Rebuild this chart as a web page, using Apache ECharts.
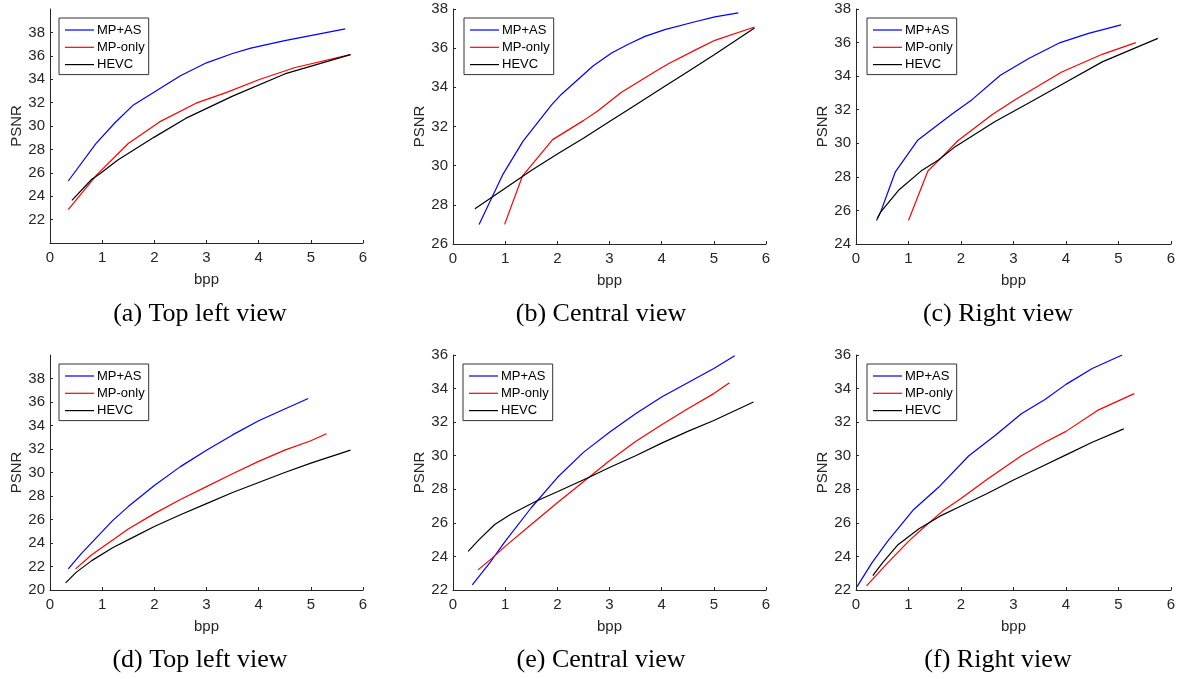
<!DOCTYPE html>
<html>
<head>
<meta charset="UTF-8">
<title>PSNR vs bpp</title>
<script src="https://cdn.jsdelivr.net/npm/echarts@6/dist/echarts.min.js"></script>
<style>
  html, body { margin: 0; padding: 0; background: #fff; }
  #main { width: 1180px; height: 679px; }
</style>
</head>
<body>
<div id="main"></div>
<script type="text/javascript">
// series names / colours (same in every panel)
var names = ['MP+AS', 'MP-only', 'HEVC'];
var colors = ['#0000ff', '#ff0000', '#000000'];
var captions = ['(a) Top left view', '(b) Central view', '(c) Right view',
                '(d) Top left view', '(e) Central view', '(f) Right view'];
var xTicks = [0, 1, 2, 3, 4, 5, 6];
var yMin = [20, 26, 24, 20, 22, 22];
var yMax = [40, 38, 38, 40, 36, 36];

// (a) top left view, first row
var mpAsA = [[0.35,25.3],[0.88,28.5],[1.25,30.3],[1.6,31.8],[2.0,32.9],[2.5,34.3],[3.0,35.4],[3.5,36.2],[3.85,36.65],[4.5,37.3],[5.66,38.3]];
var mpOnlyA = [[0.35,22.85],[0.9,25.85],[1.5,28.5],[2.1,30.35],[2.8,31.95],[3.4,32.9],[4.0,33.95],[4.7,35.0],[5.76,36.1]];
var hevcA = [[0.42,23.65],[0.8,25.45],[0.95,25.9],[1.3,27.1],[2.0,29.05],[2.6,30.65],[3.5,32.55],[4.5,34.45],[5.76,36.1]];

// (b) central view, first row
var mpAsB = [[0.5,27.0],[0.96,29.57],[1.34,31.24],[1.89,33.1],[2.08,33.65],[2.46,34.55],[2.69,35.1],[3.04,35.75],[3.36,36.2],[3.68,36.6],[4.06,36.95],[4.64,37.35],[5.02,37.6],[5.47,37.8]];
var mpOnlyB = [[0.99,27.0],[1.33,29.46],[1.91,31.33],[2.5,32.3],[2.78,32.8],[3.23,33.75],[3.87,34.8],[4.13,35.2],[4.64,35.9],[5.02,36.4],[5.78,37.08]];
var hevcB = [[0.42,27.8],[1.0,28.85],[1.5,29.75],[2.0,30.6],[2.5,31.4],[3.0,32.25],[3.5,33.1],[4.0,33.95],[4.5,34.8],[5.0,35.65],[5.78,37.03]];

// (c) right view, first row
var mpAsC = [[0.39,25.4],[0.48,26.0],[0.75,28.3],[1.18,30.2],[1.83,31.75],[2.21,32.6],[2.75,34.05],[3.29,35.05],[3.89,36.0],[4.43,36.55],[5.05,37.05]];
var mpOnlyC = [[1.0,25.4],[1.37,28.35],[1.58,29.0],[1.94,30.15],[2.59,31.7],[3.03,32.6],[3.92,34.25],[4.69,35.3],[5.33,36.0]];
var hevcC = [[0.41,25.55],[0.48,25.95],[0.81,27.2],[1.26,28.4],[1.57,29.0],[1.89,29.8],[2.65,31.3],[3.29,32.4],[3.92,33.5],[4.69,34.85],[5.75,36.25]];

// (d) top left view, second row
var mpAsD = [[0.35,21.8],[0.6,23.1],[0.9,24.5],[1.2,25.9],[1.5,27.1],[2.0,28.9],[2.5,30.5],[3.0,31.9],[3.5,33.2],[4.0,34.4],[4.5,35.4],[4.95,36.3]];
var mpOnlyD = [[0.49,21.8],[0.8,23.0],[1.25,24.4],[1.5,25.2],[2.0,26.5],[2.5,27.7],[3.0,28.8],[3.5,29.9],[4.0,30.95],[4.5,31.9],[5.0,32.7],[5.3,33.3]];
var hevcD = [[0.3,20.6],[0.5,21.5],[0.8,22.5],[1.2,23.6],[1.6,24.5],[2.0,25.4],[2.5,26.4],[3.0,27.35],[3.5,28.3],[4.0,29.15],[4.5,30.0],[5.0,30.8],[5.76,31.9]];

// (e) central view, second row
var mpAsE = [[0.37,22.3],[0.7,23.6],[1.0,24.9],[1.5,26.9],[2.0,28.7],[2.5,30.2],[3.0,31.4],[3.5,32.5],[4.0,33.5],[4.5,34.35],[5.0,35.2],[5.4,35.95]];
var mpOnlyE = [[0.48,23.2],[0.75,23.9],[1.0,24.6],[1.5,25.9],[2.0,27.2],[2.5,28.45],[3.0,29.7],[3.5,30.85],[4.0,31.85],[4.5,32.8],[5.0,33.7],[5.3,34.35]];
var hevcE = [[0.29,24.3],[0.5,25.0],[0.8,25.9],[1.1,26.5],[1.6,27.3],[2.0,27.85],[2.6,28.7],[3.0,29.3],[3.5,30.0],[4.0,30.75],[4.5,31.45],[5.0,32.1],[5.76,33.2]];

// (f) right view, second row
var mpAsF = [[0.02,22.2],[0.3,23.6],[0.6,24.9],[1.1,26.8],[1.6,28.2],[2.15,30.0],[2.65,31.2],[3.15,32.5],[3.6,33.35],[4.0,34.25],[4.5,35.2],[5.07,36.0]];
var mpOnlyF = [[0.2,22.25],[0.6,23.6],[1.0,24.9],[1.3,25.75],[1.65,26.7],[2.0,27.45],[2.5,28.6],[3.15,30.0],[3.6,30.8],[4.0,31.45],[4.6,32.7],[5.3,33.7]];
var hevcF = [[0.32,22.85],[0.5,23.6],[0.8,24.7],[1.2,25.65],[1.6,26.4],[2.0,27.0],[2.5,27.75],[3.0,28.55],[3.5,29.3],[4.0,30.05],[4.5,30.8],[5.1,31.6]];

var panels = [
    [mpAsA, mpOnlyA, hevcA],
    [mpAsB, mpOnlyB, hevcB],
    [mpAsC, mpOnlyC, hevcC],
    [mpAsD, mpOnlyD, hevcD],
    [mpAsE, mpOnlyE, hevcE],
    [mpAsF, mpOnlyF, hevcF]
];

// layout: [left, top, width, height] for each plot area
var boxes = [
    [50, 9, 313, 234],
    [453, 9, 313, 235],
    [856, 9, 315, 235],
    [50, 355, 313, 235],
    [453, 355, 313, 235],
    [856, 355, 315, 235]
];
var legendPos = [[59, 18], [464, 18], [867, 18], [59, 364], [463, 364], [867, 364]];
var captionPos = [[200, 314], [601, 314], [998, 314], [200, 660], [601, 660], [998, 660]];

var axisColor = '#262626';
var font = '"Liberation Sans", Arial, sans-serif';

var grids = [], xAxes = [], yAxes = [], series = [], legends = [], graphics = [];

for (var i = 0; i < 6; i++) {
    var b = boxes[i];
    grids.push({ left: b[0], top: b[1], width: b[2], height: b[3], containLabel: false });

    xAxes.push({
        type: 'value', gridIndex: i,
        min: xTicks[0], max: xTicks[xTicks.length - 1], interval: 1,
        name: 'bpp', nameLocation: 'middle', nameGap: 29,
        nameTextStyle: { color: axisColor, fontSize: 15, fontFamily: font },
        axisLine: { show: true, lineStyle: { color: axisColor, width: 1 } },
        axisTick: { show: true, inside: true, length: 3, lineStyle: { color: axisColor } },
        axisLabel: { color: axisColor, fontSize: 15, fontFamily: font, margin: 7 },
        splitLine: { show: false }
    });

    var hideTop = (yMax[i] === 40);
    yAxes.push({
        type: 'value', gridIndex: i,
        min: yMin[i], max: yMax[i], interval: 2,
        name: 'PSNR', nameLocation: 'middle', nameGap: 26,
        nameTextStyle: { color: axisColor, fontSize: 15, fontFamily: font },
        axisLine: { show: true, lineStyle: { color: axisColor, width: 1 } },
        axisTick: { show: true, inside: true, length: 3, lineStyle: { color: axisColor } },
        axisLabel: {
            color: axisColor, fontSize: 15, fontFamily: font, margin: 5,
            showMinLabel: i !== 0,
            showMaxLabel: !hideTop
        },
        splitLine: { show: false }
    });

    for (var k = 0; k < 3; k++) {
        series.push({
            name: names[k], type: 'line',
            xAxisIndex: i, yAxisIndex: i,
            data: panels[i][k],
            symbol: 'none', showSymbol: false,
            lineStyle: { color: colors[k], width: 1.2 },
            itemStyle: { color: colors[k] },
            emphasis: { disabled: true }
        });
    }

    // boxed legend, plain line icons
    legends.push({
        orient: 'vertical',
        left: legendPos[i][0], top: legendPos[i][1],
        data: names,
        icon: 'rect',
        itemWidth: 29, itemHeight: 1.2, itemGap: 3.3,
        padding: [5, 4, 3, 6],
        borderColor: '#333', borderWidth: 1,
        backgroundColor: '#fff',
        selectedMode: false,
        textStyle: { color: '#000', fontSize: 13, fontFamily: font, lineHeight: 14, padding: [0, 0, 0, -2] }
    });

    graphics.push({
        type: 'text',
        x: captionPos[i][0], y: captionPos[i][1],
        style: {
            text: captions[i],
            fill: '#000',
            font: '26px "Liberation Serif", "Times New Roman", serif',
            textAlign: 'center', textVerticalAlign: 'middle'
        }
    });
}

var myChart = echarts.init(document.getElementById('main'));
myChart.setOption({
    animation: false,
    backgroundColor: '#fff',
    grid: grids,
    xAxis: xAxes,
    yAxis: yAxes,
    legend: legends,
    series: series,
    graphic: graphics
});
</script>
</body>
</html>
